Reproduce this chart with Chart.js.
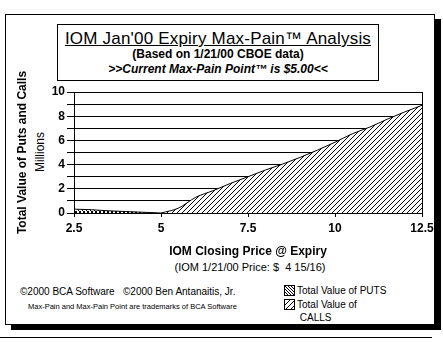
<!DOCTYPE html>
<html>
<head>
<meta charset="utf-8">
<script src="https://cdn.jsdelivr.net/npm/chart.js@4/dist/chart.umd.min.js"></script>
<style>
  html, body { margin: 0; padding: 0; background: #fff; }
  body { width: 443px; height: 342px; position: relative; overflow: hidden; font-family: "Liberation Sans", Arial, sans-serif; color: #000; }
  #frame { position: absolute; left: 5px; top: 14px; width: 428px; height: 309px; border: 1px solid #000; box-shadow: 6px 5px 0 #000; background: #fff; }
  #rule { position: absolute; left: 0; top: 337px; width: 432px; height: 1px; background: #000; }
  #titleBox { position: absolute; left: 57px; top: 24px; width: 320px; height: 55px; border: 1px solid #000; text-align: center; }
  #t1 { position: absolute; left: 0; right: 0; top: 4px; font-size: 17px; letter-spacing: 0.2px; text-decoration: underline; white-space: nowrap; }
  #t2 { position: absolute; left: 0; right: 0; top: 22px; font-size: 12px; font-weight: bold; }
  #t3 { position: absolute; left: 0; right: 0; top: 37px; font-size: 12px; font-weight: bold; font-style: italic; }
  #millions { position: absolute; left: 40px; top: 152px; font-size: 12px; transform: translate(-50%, -50%) rotate(-90deg); white-space: nowrap; }
  #price { position: absolute; left: 250px; top: 261px; font-size: 11px; transform: translateX(-50%); white-space: nowrap; }
  #copy { position: absolute; left: 20px; top: 286px; font-size: 10px; white-space: nowrap; }
  #tm { position: absolute; left: 28px; top: 302px; font-size: 7.5px; white-space: nowrap; }
  .leg { position: absolute; font-size: 10px; white-space: nowrap; line-height: 13px; }
  .leg canvas { position: absolute; left: 0; top: 1px; border: 1px solid #000; }
  .leg span { position: absolute; left: 13px; top: 0; }
  #chart { position: absolute; left: 0; top: 0; }
</style>
</head>
<body>
<div id="frame"></div>
<div id="rule"></div>
<div id="titleBox">
  <div id="t1">IOM Jan'00 Expiry Max-Pain™ Analysis</div>
  <div id="t2">(Based on 1/21/00 CBOE data)</div>
  <div id="t3">&gt;&gt;Current Max-Pain Point™ is $5.00&lt;&lt;</div>
</div>
<div id="millions">Millions</div>
<div id="price">(IOM 1/21/00 Price: $&nbsp; 4 15/16)</div>
<div id="copy">©2000 BCA Software &nbsp;&nbsp;©2000 Ben Antanaitis, Jr.</div>
<div id="tm">Max-Pain and Max-Pain Point are trademarks of BCA Software</div>
<div class="leg" style="left:284px; top:284px;"><canvas id="swPuts" width="9" height="9"></canvas><span>Total Value of PUTS</span></div>
<div class="leg" style="left:284px; top:298px;"><canvas id="swCalls" width="9" height="9"></canvas><span>Total Value of<br>&nbsp;CALLS</span></div>
<canvas id="chart" width="443" height="342"></canvas>
<script>
// closing price at expiry
const putPrices = [2.5, 3, 3.5, 4, 4.5, 5];
const putValues = [0.32, 0.27, 0.18, 0.12, 0.06, 0];
const callPrices = [5, 5.5, 6, 6.5, 7, 7.5, 8, 8.5, 9, 9.5, 10, 10.5, 11, 11.5, 12, 12.5];
const callValues = [0, 0.4, 1.3, 1.85, 2.45, 3.0, 3.55, 4.05, 4.6, 5.2, 5.85, 6.55, 7.1, 7.75, 8.35, 8.9];
const xTicks = [2.5, 5, 7.5, 10, 12.5];
const yGrid = [0, 1, 2, 3, 4, 5, 6, 7, 8, 9, 10];
const yTicks = [0, 2, 4, 6, 8, 10];

function makeTile(size, pixels) {
  const c = document.createElement("canvas");
  c.width = size;
  c.height = size;
  const ctx = c.getContext("2d");
  ctx.fillStyle = "#fff";
  ctx.fillRect(0, 0, size, size);
  ctx.fillStyle = "#000";
  pixels.forEach(([x, y]) => ctx.fillRect(x, y, 1, 1));
  return c;
}

// "/" hatch for calls, crossed hatch for puts
const callTile = makeTile(5, [[0, 4], [1, 3], [2, 2], [3, 1], [4, 0]]);
const putTile = makeTile(4, [[0, 0], [1, 1], [2, 2], [3, 3], [3, 0], [0, 3]]);

const ctx0 = document.getElementById("chart").getContext("2d");
const callPattern = ctx0.createPattern(callTile, "repeat");
const putPattern = ctx0.createPattern(putTile, "repeat");

function fillSwatch(id, tile) {
  const c = document.getElementById(id).getContext("2d");
  c.fillStyle = c.createPattern(tile, "repeat");
  c.fillRect(0, 0, 9, 9);
}
fillSwatch("swPuts", makeTile(3, [[0, 0], [1, 1], [2, 2]]));
fillSwatch("swCalls", callTile);

const boxPlugin = {
  id: "box",
  afterDatasetsDraw(chart) {
    const { ctx, chartArea: a } = chart;
    ctx.save();
    ctx.strokeStyle = "#000";
    ctx.lineWidth = 1;
    ctx.strokeRect(Math.round(a.left) + 0.5, Math.round(a.top) + 0.5, Math.round(a.right - a.left), Math.round(a.bottom - a.top));
    ctx.restore();
  }
};

new Chart(ctx0, {
  type: "line",
  data: {
    datasets: [
      {
        label: "Total Value of PUTS",
        data: putPrices.map((p, i) => ({ x: p, y: putValues[i] })),
        backgroundColor: putPattern,
        borderColor: "#000",
        borderWidth: 1,
        fill: "origin",
        pointRadius: 0,
        tension: 0
      },
      {
        label: "Total Value of CALLS",
        data: callPrices.map((p, i) => ({ x: p, y: callValues[i] })),
        backgroundColor: callPattern,
        borderColor: "#000",
        borderWidth: 1,
        fill: "origin",
        pointRadius: 0,
        cubicInterpolationMode: "monotone"
      }
    ]
  },
  options: {
    responsive: false,
    animation: false,
    layout: { padding: { left: 0, top: 92, right: 21, bottom: 83 } },
    plugins: { legend: { display: false }, tooltip: { enabled: false } },
    scales: {
      x: {
        type: "linear",
        min: 2.5,
        max: 12.5,
        afterFit: (s) => { s.height = 46; },
        afterBuildTicks: (s) => { s.ticks = xTicks.map((v) => ({ value: v })); },
        ticks: {
          color: "#000",
          font: { family: "Liberation Sans", size: 12, weight: "bold" },
          padding: 4,
          maxRotation: 0,
          callback: (v) => String(v)
        },
        grid: { drawOnChartArea: false, color: "#000", tickLength: 4 },
        border: { color: "#000" },
        title: {
          display: true,
          text: "IOM Closing Price @ Expiry",
          color: "#000",
          font: { family: "Liberation Sans", size: 12, weight: "bold" },
          padding: 0
        }
      },
      y: {
        min: 0,
        max: 10,
        afterFit: (s) => { s.width = 74; },
        afterBuildTicks: (s) => { s.ticks = yGrid.map((v) => ({ value: v })); },
        ticks: {
          source: "data",
          autoSkip: false,
          autoSkipPadding: 0,
          color: "#000",
          font: { family: "Liberation Sans", size: 12, weight: "bold", lineHeight: 0.9 },
          padding: 2,
          callback: (v) => (yTicks.includes(v) ? String(v) : " ")
        },
        grid: { color: "#000", tickLength: 7 },
        border: { color: "#000" },
        title: {
          display: true,
          text: "Total Value of Puts and Calls",
          color: "#000",
          font: { family: "Liberation Sans", size: 12, weight: "bold" },
          padding: { top: 15, bottom: 0 }
        }
      }
    }
  },
  plugins: [boxPlugin]
});
</script>
</body>
</html>
